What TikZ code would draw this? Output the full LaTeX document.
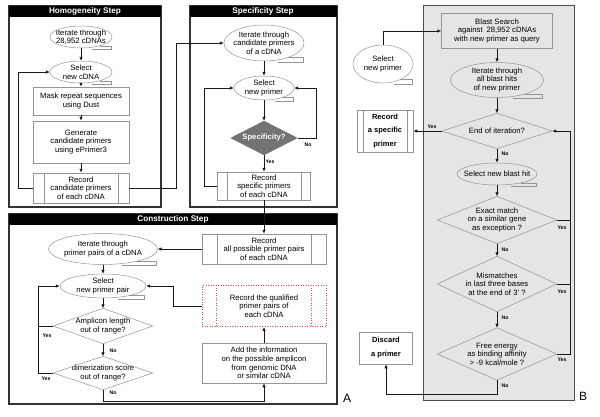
\documentclass[tikz,border=0pt]{standalone}
\usepackage{fontspec}
\setmainfont{Liberation Sans}
\usetikzlibrary{arrows.meta,calc}
\pgfdeclarelayer{bg}
\pgfsetlayers{bg,main}
\tikzset{
 txt/.style={rectangle, inner sep=0pt, align=center, font=\fontsize{7.7}{8.6}\selectfont, text=black},
 nline/.style={draw=black!42, line width=0.5pt},
 conn/.style={draw=black!90, line width=0.7pt},
 arr/.style={conn, -{Latex[length=4pt,width=3.4pt]}},
 lbl/.style={inner sep=0pt, font=\bfseries\fontsize{5.2}{6}\selectfont},
 ttl/.style={inner sep=0pt, font=\bfseries\fontsize{8.2}{9}\selectfont, text=white},
 panel/.style={draw=black!80, line width=1.2pt},
 boldtxt/.style={font=\bfseries\fontsize{7.5}{13.5}\selectfont},
 reddot/.style={draw=red!75, dotted, line width=0.8pt},
}
\newcommand\Ell[6]{%
 \node[txt,minimum width=#4pt,minimum height=#5pt] (#1) at (#2,#3) {#6};
 \draw[nline] (#2,#3) ellipse [x radius={#4pt/2}, y radius={#5pt/2}];
 \draw[nline] ($(#2,#3)+({0.6*#4/2},{0.8*#5/2})$) -- ($(#2,#3)+({0.97*#4/2},{0.8*#5/2})$) -- ($(#2,#3)+({0.97*#4/2},{#5/2+1})$) -- ($(#2,#3)+({0.35*#4/2},{#5/2+1})$);}
\newcommand\Dia[6]{%
 \node[txt,minimum width=#4pt,minimum height=#5pt] (#1) at (#2,#3) {#6};
 \draw[nline] (#1.north)--(#1.east)--(#1.south)--(#1.west)--cycle;}
\newcommand\Bx[7][]{%
 \node[txt,nline,minimum width=#5pt,minimum height=#6pt,#1] (#2) at (#3,#4) {#7};}
\newcommand\PP[8][]{%
 \Bx[#1]{#2}{#3}{#4}{#5}{#6}{#8}%
 \draw[nline,#1] ([xshift=#7pt]#2.north west) -- ([xshift=#7pt]#2.south west) ([xshift=-#7pt]#2.north east) -- ([xshift=-#7pt]#2.south east);}
\begin{document}
\begin{tikzpicture}[x=1pt,y=-1pt]
\useasboundingbox (0,0) rectangle (600,416);
% panel B background
\draw[fill=black!10, draw=black!70, line width=1pt] (423,5) rectangle (574,400);
% panels
\draw[panel] (9,6) rectangle (161,207);
\fill[black] (9,6) rectangle (161,17);
\node[ttl] (t1) at (85,11.7) {Homogeneity Step};
\draw[panel] (190,6) rectangle (337,207);
\fill[black] (190,6) rectangle (337,17);
\node[ttl] (t2) at (263,11.7) {Specificity Step};
\draw[panel] (9,214) rectangle (337,404);
\fill[black] (9,214) rectangle (337,225);
\node[ttl] (t3) at (173,219.7) {Construction Step};

% Homogeneity
\Ell{h1}{81}{37}{62}{22}{Iterate through\\28,952 cDNAs}
\Ell{h2}{81}{72}{62}{22}{Select\\new cDNA}
\Bx{h3}{81}{101}{96}{28}{Mask repeat sequences\\using Dust}
\Bx{h4}{81}{142}{96}{42}{Generate\\candidate primers\\using ePrimer3}
\PP{h5}{81}{188}{96}{30}{11}{Record\\candidate primers\\of each cDNA}

% Specificity
\Ell{s1}{264}{43}{80}{36}{Iterate through\\candidate primers\\of a cDNA}
\Ell{s2}{264}{88}{60}{24}{Select\\new primer}
\node[txt,minimum width=67pt,minimum height=34pt,text=white,font=\bfseries\fontsize{7.7}{8.6}\selectfont] (s3) at (264,138) {Specificity?};
\begin{pgfonlayer}{bg}
\fill[black!55] (s3.north)--(s3.east)--(s3.south)--(s3.west)--cycle;
\end{pgfonlayer}
\PP{s4}{264}{186}{93}{28}{10}{Record\\specific primers\\of each cDNA}

% Construction
\Ell{c1}{103}{249}{109}{31}{Iterate through\\primer pairs of a cDNA}
\Ell{c2}{103}{286}{86}{24}{Select\\new primer pair}
\Dia{c3}{103}{326}{99}{35}{Amplicon length\\out of range?}
\Dia{c4}{103}{373}{99}{33}{dimerization score\\out of range?}
\PP{r1}{264}{249}{124}{30}{15}{Record\\all possible primer pairs\\of each cDNA}
\PP[reddot]{r2}{264}{306}{124}{41}{15}{Record the qualified\\primer pairs of\\each cDNA}
\Bx{r3}{264}{363}{124}{40}{Add the information\\on the possible amplicon\\from genomic DNA\\or similar cDNA}

% B
\Ell{sel}{383}{64}{60}{38}{Select\\new primer}
\Bx{b1}{497}{31}{111}{35}{Blast Search\\against\enspace 28,952 cDNAs\\with new primer as query}
\Ell{b2}{497}{80}{93}{35}{Iterate through\\all blast hits\\of new primer}
\Dia{b3}{497}{131}{110}{35}{End of iteration?}
\PP[boldtxt]{rec}{385}{131}{56}{42}{6}{Record\\a specific\\primer}
\Ell{b4}{497}{174}{80}{22}{Select new blast hit}
\Dia{b5}{497}{220}{119}{47}{Exact match\\on a similar gene\\as exception ?}
\Dia{b6}{497}{284}{119}{55}{Mismatches\\in last three bases\\at the end of 3' ?}
\Dia{b7}{497}{354}{119}{52}{Free energy\\as binding affinity\\> -9 kcal/mole ?}
\Bx[font=\bfseries\fontsize{7.5}{14}\selectfont]{disc}{386}{348}{53}{32}{Discard\\a primer}

% connectors Homogeneity
\draw[arr] (h1.south) -- (h2.north);
\draw[arr] (h2.south) -- (h3.north);
\draw[arr] (h3.south) -- (h4.north);
\draw[arr] (h4.south) -- (h5.north);
\draw[arr] (h5.west) -- ++(-14,0) |- (h2.west);
\draw[arr] (h5.east) -- ++(47,0) |- (s1.west);
% Specificity
\draw[arr] (s1.south) -- (s2.north);
\draw[arr] (s2.south) -- (s3.north);
\draw[arr] (s3.south) -- (s4.north);
\draw[arr] (s3.east) -- ++(19,0) |- (s2.east);
\draw[arr] (s4.west) -- ++(-13,0) |- (s2.west);
\draw[arr] (s4.south) -- (r1.north);
\node[lbl] (ys1) at (270,162) {Yes};
\node[lbl] (ns1) at (308,145) {No};
% Construction
\draw[arr] (r1.west) -- (c1.east);
\draw[arr] (c1.south) -- (c2.north);
\draw[arr] (c2.south) -- (c3.north);
\draw[arr] (c3.south) -- (c4.north);
\draw[arr] (r2.west) -- ++(-28,0) |- (c2.east);
\draw[arr] (r3.north) -- (r2.south);
\draw[arr] (c4.south) -- ++(0,12) -| (r3.south);
\draw[conn] (c3.west) -- ++(-15,0);
\draw[arr] (c4.west) -- ++(-15,0) |- (c2.west);
\node[lbl] (yc1) at (47,336) {Yes};
\node[lbl] (yc2) at (46,379) {Yes};
\node[lbl] (nc1) at (113,351) {No};
\node[lbl] (nc2) at (113,393) {No};
% B
\draw[arr] (sel.north) |- (b1.west);
\draw[arr] (b1.south) -- (b2.north);
\draw[arr] (b2.south) -- (b3.north);
\draw[arr] (b3.west) -- (rec.east);
\draw[arr] (b3.south) -- (b4.north);
\draw[arr] (b4.south) -- (b5.north);
\draw[arr] (b5.south) -- (b6.north);
\draw[arr] (b6.south) -- (b7.north);
\draw[conn] (b5.east) -- ++(14,0);
\draw[conn] (b6.east) -- ++(14,0);
\draw[arr] (b7.east) -- ++(14,0) |- (b3.east);
\draw[arr] (b7.south) -- ++(0,14) -| (disc.south);
\node[lbl] (yb1) at (432,127) {Yes};
\node[lbl] (nb1) at (505,154) {No};
\node[lbl] (nb2) at (505,250) {No};
\node[lbl] (nb3) at (505,318) {No};
\node[lbl] (nb4) at (505,386) {No};
\node[lbl] (yb2) at (562,228) {Yes};
\node[lbl] (yb3) at (562,292) {Yes};
\node[lbl] (yb4) at (562,360) {Yes};

\node[inner sep=0pt,font=\fontsize{12}{12}\selectfont] (LA) at (347,398) {A};
\node[inner sep=0pt,font=\fontsize{12}{12}\selectfont] (LB) at (583,396) {B};
\end{tikzpicture}
\end{document}
